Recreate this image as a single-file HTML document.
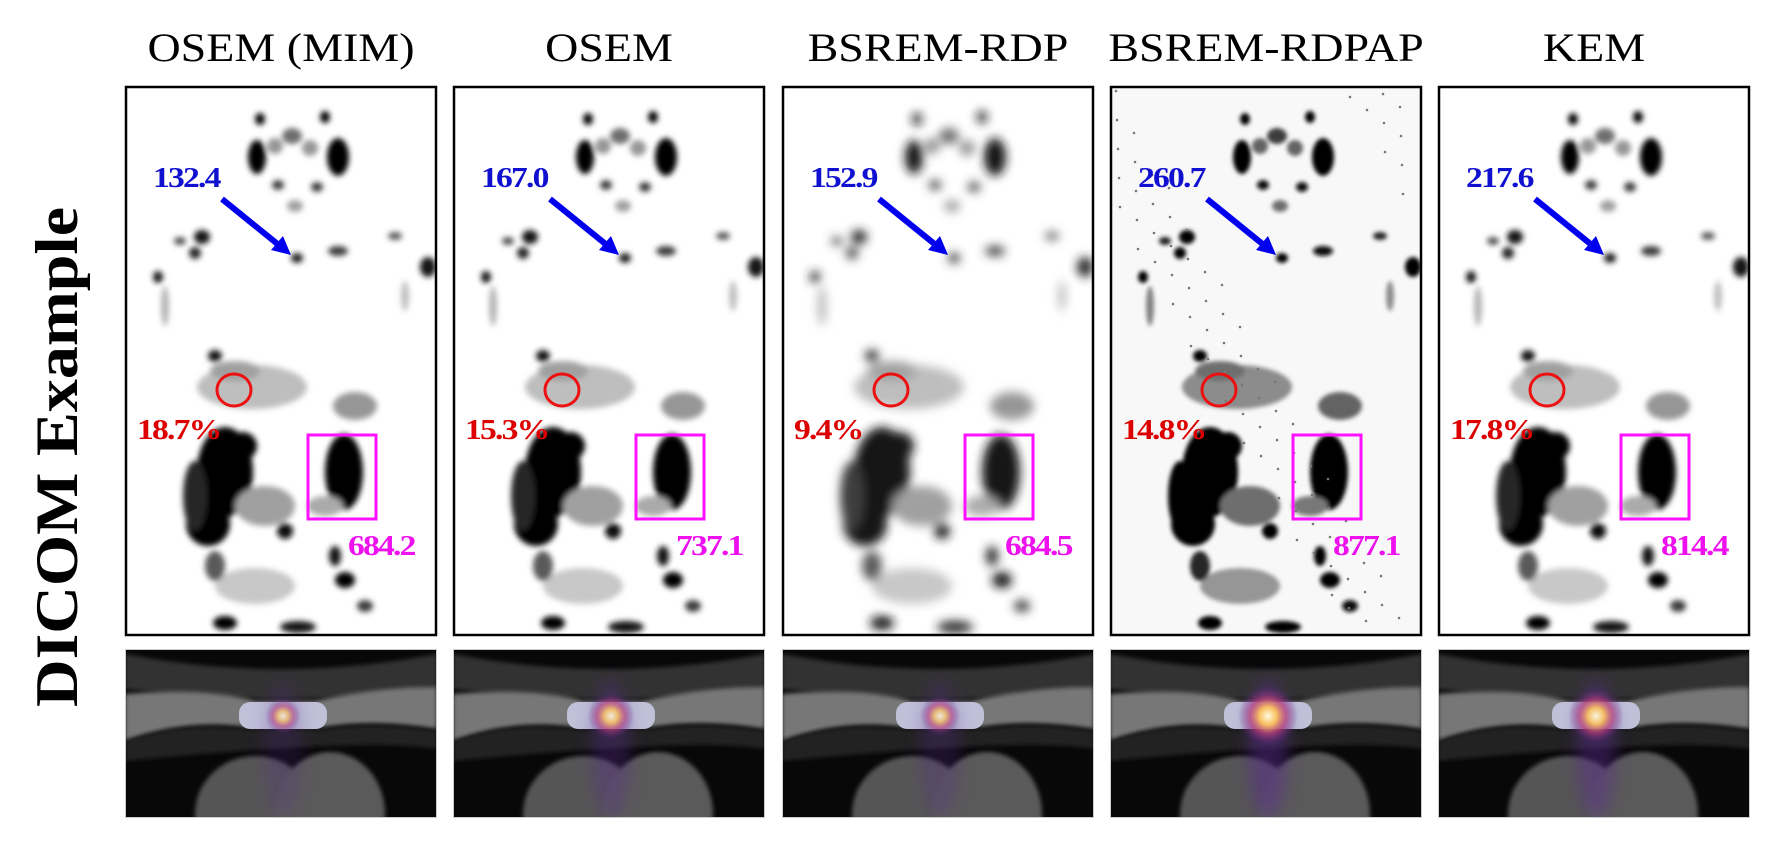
<!DOCTYPE html>
<html><head><meta charset="utf-8">
<style>
html,body{margin:0;padding:0;background:#fff;width:1781px;height:845px;overflow:hidden}
svg{display:block}
.t{font-family:"Liberation Serif",serif;font-size:40px;fill:#000}
.ann{font-family:"Liberation Serif",serif;font-weight:bold;font-size:28px;letter-spacing:-1.5px}
</style></head>
<body>
<svg id="fig" width="1781" height="845" viewBox="0 0 1781 845">
<defs>
<filter id="b3" x="-50%" y="-50%" width="200%" height="200%"><feGaussianBlur stdDeviation="3"/></filter>
<filter id="b5" x="-50%" y="-50%" width="200%" height="200%"><feGaussianBlur stdDeviation="5"/></filter>
<filter id="b2" x="-50%" y="-50%" width="200%" height="200%"><feGaussianBlur stdDeviation="2"/></filter>
<filter id="b8" x="-50%" y="-50%" width="200%" height="200%"><feGaussianBlur stdDeviation="8"/></filter>
<radialGradient id="hot" cx="50%" cy="50%" r="50%">
<stop offset="0" stop-color="#fffbe0"/><stop offset="0.3" stop-color="#f7c060"/><stop offset="0.6" stop-color="#c0407a" stop-opacity="0.7"/><stop offset="1" stop-color="#5a2a90" stop-opacity="0"/></radialGradient>
<clipPath id="clipTop"><rect x="0" y="0" width="312" height="550"/></clipPath>
<clipPath id="clipBot"><rect x="0" y="0" width="312" height="169"/></clipPath>
</defs>
<text class="t" x="57" y="457" transform="rotate(-90 57 457)" text-anchor="middle" dominant-baseline="central" style="font-size:60px;font-weight:bold" textLength="500" lengthAdjust="spacingAndGlyphs">DICOM Example</text>
</svg>
<script>
const methods=["OSEM (MIM)","OSEM","BSREM-RDP","BSREM-RDPAP","KEM"];
const blueVals=["132.4","167.0","152.9","260.7","217.6"];
const redVals=["18.7%","15.3%","9.4%","14.8%","17.8%"];
const magVals=["684.2","737.1","684.5","877.1","814.4"];
const glowStrength=[0.45,0.7,0.55,1.0,0.9];
const NS="http://www.w3.org/2000/svg";
const svg=document.getElementById("fig");
function mk(tag,attrs,parent){const e=document.createElementNS(NS,tag);for(const k in attrs)e.setAttribute(k,attrs[k]);parent.appendChild(e);return e;}
function stretch(el,f){const w=el.getComputedTextLength();el.setAttribute("textLength",w*f);el.setAttribute("lengthAdjust","spacingAndGlyphs");}
const blobs=[[135,33,5,6,0],[200,31,5,6,0],[132,71,9,17,0],[213,71,11,19,0],[167,50,10,8,110],[150,60,8,8,150],[185,62,8,8,150],[153,99,6,5,60],[192,101,6,5,60],[170,120,8,6,160],
[77,151,8,7,20],[70,167,6,6,40],[33,191,5,6,20],[303,181,8,10,20],[172,172,6,5,30],[213,165,10,5,60],[55,155,6,4,80],[270,150,7,4,90],[40,220,4,20,180],[280,210,4,15,190],
[127,301,55,22,190],[110,285,25,10,160],[230,320,22,14,150],[90,270,7,6,20],
[100,386,28,45,0],[118,360,14,14,0],[83,438,22,22,0],[70,410,12,35,40],[140,420,30,20,160],[160,445,8,8,10],
[219,386,19,38,0],[210,470,6,10,20],[220,494,10,8,0],[100,537,12,7,0],[173,541,18,6,20],[240,520,8,6,60],[130,500,40,18,200],[90,480,10,15,90],[200,420,18,10,170]];
const lefts=[125,453,782,1110,1438];
methods.forEach((m,i)=>{
  const L=lefts[i];
  const title=mk("text",{class:"t",x:L+156,y:61,"text-anchor":"middle"},svg);title.textContent=m;
  
  
  stretch(title,1.15);
  const g=mk("g",{transform:`translate(${L},86)`},svg);
  
  
  const inner=mk("g",{"clip-path":"url(#clipTop)"},g);
  mk("rect",{x:0,y:0,width:312,height:550,fill:i==3?"#f8f8f8":"#fff"},inner);
  const bg=mk("g",{filter:i==2?"url(#b5)":(i==3?"url(#b2)":"url(#b3)")},inner);
  blobs.forEach(b=>{let gr=b[4];if(i==3)gr=Math.max(0,gr-50);if(i==2&&gr<60)gr+=20;
    mk("ellipse",{cx:b[0],cy:b[1],rx:b[2],ry:b[3],fill:`rgb(${gr},${gr},${gr})`},bg);});
  if(i==3){for(let k=0;k<80;k++){const x=(k*53)%300+6,y=(k*97)%540+5;mk("circle",{cx:x,cy:y,r:1.3,fill:"#777"},inner);}}
  mk("rect",{x:1,y:1,width:310,height:548,fill:"none",stroke:"#000","stroke-width":2.5},g);
  const bt=mk("text",{class:"ann",x:28,y:101,fill:"#1010d0"},g);bt.textContent=blueVals[i];
  
  
  stretch(bt,1.2);
  const ar=mk("g",{},g);
  
  
  mk("line",{x1:97,y1:113,x2:155,y2:160,stroke:"#0000ee","stroke-width":6},ar);
  mk("polygon",{points:"166,169 146,164 158,150",fill:"#0000ee"},ar);
  const c=mk("ellipse",{cx:109,cy:304,rx:17,ry:16,fill:"none",stroke:"#ee1010","stroke-width":3},g);
  
  
  const rt=mk("text",{class:"ann",x:12,y:353,fill:"#dd0000"},g);rt.textContent=redVals[i];
  
  
  stretch(rt,1.2);
  const r=mk("rect",{x:183,y:349,width:68,height:84,fill:"none",stroke:"#ff10ff","stroke-width":3},g);
  
  
  const mt=mk("text",{class:"ann",x:223,y:469,fill:"#ee10ee"},g);mt.textContent=magVals[i];
  
  
  stretch(mt,1.2);
  const h=mk("g",{transform:`translate(${L},649)`},svg);
  
  
  const hi=mk("g",{"clip-path":"url(#clipBot)"},h);
  mk("rect",{x:0,y:0,width:312,height:169,fill:"#080808"},hi);
  mk("path",{d:"M0,5 Q156,35 312,5 L312,40 Q156,60 0,40Z",fill:"#333",filter:"url(#b2)"},hi);
  mk("path",{d:"M0,45 Q80,38 130,52 L190,52 Q250,38 312,38 L312,80 Q250,70 200,78 L120,78 Q60,70 0,92Z",fill:"#777",filter:"url(#b2)"},hi);
  mk("path",{d:"M0,92 Q60,72 120,80 L200,80 Q250,72 312,82 L312,100 Q250,88 0,112Z",fill:"#222",filter:"url(#b2)"},hi);
  mk("ellipse",{cx:130,cy:165,rx:60,ry:58,fill:"#555",filter:"url(#b2)"},hi);
  mk("ellipse",{cx:205,cy:165,rx:55,ry:62,fill:"#5a5a5a",filter:"url(#b2)"},hi);
  mk("rect",{x:114,y:53,width:88,height:27,rx:11,fill:"#c0c0d8"},hi);
  const s=glowStrength[i];
  mk("ellipse",{cx:158,cy:100,rx:20,ry:70,fill:"#5a2a90",opacity:0.5*s,filter:"url(#b8)"},hi);
  mk("ellipse",{cx:158,cy:67,rx:22*s+8,ry:22*s+8,fill:"url(#hot)",opacity:0.55+0.45*s},hi);
  mk("rect",{x:0.5,y:0.5,width:311,height:168,fill:"none",stroke:"#ccc","stroke-width":1},h);
});
</script>
</body></html>
